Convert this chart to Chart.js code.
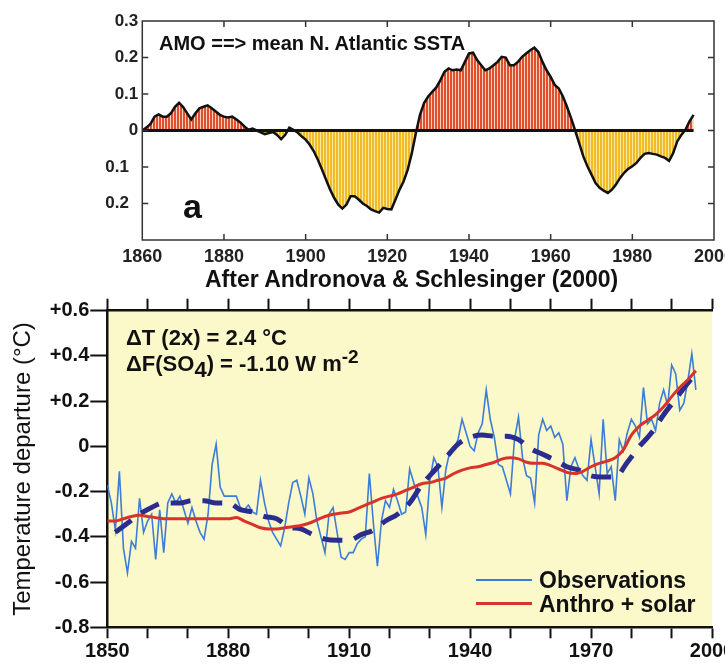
<!DOCTYPE html>
<html>
<head>
    <title>AMO and temperature departure</title>
    <script src="https://cdn.jsdelivr.net/npm/chart.js"></script>
    <style>
        body { margin: 0; width: 725px; height: 668px; overflow: hidden; background: #fff;
               font-family: "Liberation Sans", Arial, sans-serif; }
        canvas { position: absolute; left: 0; }
        .txt { position: absolute; white-space: nowrap; color: #111; font-weight: bold; }
        .key { position: absolute; height: 0; }
    </style>
</head>
<body>
    <canvas id="amo" width="760" height="300" style="top:0"></canvas>
    <canvas id="temp" width="760" height="400" style="top:268px"></canvas>

    <div class="txt" style="left:159px; top:33px; font-size:20px; line-height:20px;">AMO ==&gt; mean N. Atlantic SSTA</div>
    <div class="txt" style="left:183px; top:189px; font-size:34px; line-height:34px;">a</div>
    <div class="txt" style="left:205px; top:268px; font-size:23px; line-height:23px;">After Andronova &amp; Schlesinger (2000)</div>

    <div class="txt" style="left:126px; top:327px; font-size:22px; line-height:22px;">&Delta;T (2x) = 2.4 &deg;C</div>
    <div class="txt" style="left:126px; top:353px; font-size:22px; line-height:22px;">&Delta;F(SO<span style="position:relative; top:6px;">4</span>) = -1.10 W m<span style="position:relative; top:-8px; font-size:19px;">-2</span></div>

    <div class="key" style="left:476px; top:579px; width:56px; border-top:2px solid #3b7dd8;"></div>
    <div class="txt" style="left:539px; top:569px; font-size:23px; line-height:23px;">Observations</div>
    <div class="key" style="left:476px; top:602px; width:56px; border-top:3px solid #d8322a;"></div>
    <div class="txt" style="left:539px; top:593px; font-size:23px; line-height:23px;">Anthro + solar</div>

    <script>
        // AMO index, yearly, 1860-1995
        const amoValues = [
            0.000, 0.008, 0.018, 0.038, 0.044, 0.038, 0.038, 0.047, 0.065, 0.076,
            0.064, 0.047, 0.030, 0.047, 0.061, 0.065, 0.069, 0.061, 0.052, 0.043,
            0.038, 0.036, 0.038, 0.031, 0.022, 0.011, 0.002, 0.005, 0.000, -0.005,
            -0.010, -0.007, -0.004, -0.012, -0.024, -0.012, 0.008, 0.002, -0.005, -0.016,
            -0.025, -0.039, -0.057, -0.080, -0.107, -0.135, -0.162, -0.185, -0.203, -0.214,
            -0.203, -0.180, -0.180, -0.189, -0.200, -0.207, -0.216, -0.221, -0.225, -0.212,
            -0.215, -0.216, -0.189, -0.162, -0.139, -0.107, -0.062, -0.007, 0.043, 0.075,
            0.093, 0.106, 0.118, 0.138, 0.161, 0.170, 0.165, 0.167, 0.165, 0.188,
            0.211, 0.213, 0.193, 0.179, 0.165, 0.170, 0.179, 0.188, 0.202, 0.200,
            0.179, 0.179, 0.188, 0.202, 0.211, 0.220, 0.227, 0.215, 0.188, 0.165,
            0.147, 0.125, 0.115, 0.093, 0.065, 0.034, 0.000, -0.035, -0.071, -0.098,
            -0.121, -0.144, -0.157, -0.165, -0.171, -0.162, -0.148, -0.130, -0.116, -0.105,
            -0.098, -0.089, -0.075, -0.064, -0.062, -0.064, -0.066, -0.071, -0.075, -0.083,
            -0.062, -0.030, -0.012, 0.002, 0.025, 0.043
        ];
        const amoYears = Array.from({length: amoValues.length}, (_, i) => 1860 + i);
        const amoTicks = [-0.3, -0.2, -0.1, 0, 0.1, 0.2, 0.3];

        // observed temperature departure, yearly, 1850-1996
        const obsValues = [
            -0.17, -0.25, -0.37, -0.11, -0.45, -0.56, -0.42, -0.45, -0.23, -0.38,
            -0.33, -0.30, -0.50, -0.28, -0.47, -0.25, -0.21, -0.25, -0.22, -0.28,
            -0.34, -0.27, -0.33, -0.38, -0.41, -0.30, -0.08, 0.01, -0.18, -0.22,
            -0.22, -0.22, -0.22, -0.27, -0.28, -0.26, -0.29, -0.30, -0.15, -0.25,
            -0.33, -0.38, -0.41, -0.44, -0.36, -0.25, -0.16, -0.15, -0.22, -0.30,
            -0.14, -0.21, -0.33, -0.40, -0.47, -0.30, -0.27, -0.38, -0.49, -0.50,
            -0.47, -0.47, -0.43, -0.41, -0.40, -0.12, -0.34, -0.53, -0.33, -0.24,
            -0.27, -0.19, -0.24, -0.30, -0.29, -0.10, -0.16, -0.22, -0.27, -0.39,
            -0.15, -0.05, -0.09, -0.27, -0.10, -0.02, -0.01, 0.03, 0.12, 0.06,
            0.00, -0.02, 0.06, 0.10, 0.25, 0.12, 0.04, -0.08, -0.09, -0.15,
            -0.21, 0.03, 0.13, -0.05, -0.13, -0.14, -0.25, 0.05, 0.12, 0.07,
            0.09, 0.04, 0.06, 0.01, -0.24, -0.09, -0.05, -0.10, -0.13, -0.15,
            0.03, -0.09, -0.21, 0.12, -0.12, -0.09, -0.24, 0.03, -0.02, 0.06,
            0.12, 0.09, 0.04, 0.26, 0.10, 0.12, 0.07, 0.19, 0.25, 0.18,
            0.36, 0.32, 0.16, 0.19, 0.29, 0.41, 0.25
        ];
        const obsYears = Array.from({length: obsValues.length}, (_, i) => 1850 + i);

        // model (anthropogenic + solar), every 2 years, 1850-1996
        const modelValues = [
            -0.33, -0.33, -0.32, -0.31, -0.305, -0.31, -0.315, -0.32, -0.32, -0.32,
            -0.32, -0.32, -0.32, -0.32, -0.32, -0.32, -0.315, -0.33, -0.345, -0.36,
            -0.365, -0.365, -0.36, -0.355, -0.35, -0.34, -0.325, -0.31, -0.30, -0.295,
            -0.29, -0.275, -0.26, -0.245, -0.23, -0.22, -0.21, -0.195, -0.18, -0.165,
            -0.16, -0.15, -0.14, -0.12, -0.105, -0.095, -0.09, -0.08, -0.07, -0.055,
            -0.05, -0.055, -0.07, -0.075, -0.075, -0.085, -0.10, -0.115, -0.12, -0.11,
            -0.09, -0.075, -0.065, -0.05, -0.015, 0.05, 0.09, 0.115, 0.14, 0.175,
            0.22, 0.26, 0.295, 0.335
        ];
        const modelYears = Array.from({length: modelValues.length}, (_, i) => 1850 + 2 * i);

        // thick dashed curve
        const dashYears = [
            1852, 1855, 1858, 1861, 1864, 1868, 1871, 1874, 1877, 1880,
            1883, 1886, 1889, 1892, 1895, 1898, 1901, 1904, 1907, 1910,
            1913, 1916, 1919, 1922, 1925, 1928, 1931, 1934, 1937, 1940,
            1943, 1946, 1949, 1952, 1955, 1958, 1961, 1964, 1967, 1970,
            1973, 1976, 1979, 1982, 1985, 1988, 1991, 1994, 1996
        ];
        const dashValues = [
            -0.38, -0.34, -0.30, -0.27, -0.25, -0.25, -0.24, -0.24, -0.25, -0.25,
            -0.28, -0.29, -0.31, -0.32, -0.355, -0.365, -0.39, -0.41, -0.415, -0.415,
            -0.39, -0.37, -0.33, -0.30, -0.25, -0.17, -0.11, -0.05, 0.01, 0.04,
            0.05, 0.045, 0.045, 0.03, -0.01, -0.035, -0.06, -0.09, -0.105, -0.13,
            -0.135, -0.135, -0.07, 0.00, 0.06, 0.14, 0.21, 0.28, 0.32
        ];

        const xy = (xs, ys) => xs.map((x, i) => ({x: x, y: ys[i]}));
        const FONT = '"Liberation Sans", Arial, sans-serif';

        function stripes(col, light) {
            const c = document.createElement('canvas');
            c.width = 3; c.height = 4;
            const g = c.getContext('2d');
            g.fillStyle = col; g.fillRect(0, 0, 2, 4);
            g.fillStyle = light; g.fillRect(2, 0, 1, 4);
            return g.createPattern(c, 'repeat');
        }

        // box with inward ticks for the AMO panel
        const boxTicks = {
            id: 'boxTicks',
            afterDatasetsDraw(chart) {
                const {ctx, chartArea: a, scales: {x, y}} = chart;
                ctx.save();
                ctx.strokeStyle = '#333';
                ctx.lineWidth = 1.5;
                ctx.strokeRect(a.left, a.top, a.right - a.left, a.bottom - a.top);
                ctx.beginPath();
                x.ticks.forEach(t => {
                    const px = x.getPixelForValue(t.value);
                    if (px <= a.left + 1 || px >= a.right - 1) return;
                    ctx.moveTo(px, a.top); ctx.lineTo(px, a.top + 6);
                    ctx.moveTo(px, a.bottom); ctx.lineTo(px, a.bottom - 6);
                });
                y.ticks.forEach(t => {
                    const py = y.getPixelForValue(t.value);
                    if (py <= a.top + 1 || py >= a.bottom - 1) return;
                    ctx.moveTo(a.left, py); ctx.lineTo(a.left + 6, py);
                    ctx.moveTo(a.right, py); ctx.lineTo(a.right - 6, py);
                });
                ctx.stroke();
                ctx.restore();
            }
        };

        const noGrid = {display: false, drawTicks: false, tickLength: 0};

        new Chart(document.getElementById('amo'), {
            type: 'line',
            data: {
                datasets: [{
                    data: xy(amoYears, amoValues),
                    borderColor: '#111',
                    borderWidth: 2.5,
                    pointRadius: 0,
                    fill: {
                        target: {value: 0},
                        above: stripes('#e0502e', '#f7d2bf'),
                        below: stripes('#f0bb26', '#fae8a2')
                    },
                    order: 1
                }, {
                    data: [{x: amoYears[0], y: 0}, {x: amoYears[amoYears.length - 1], y: 0}],
                    borderColor: '#111',
                    borderWidth: 3,
                    pointRadius: 0,
                    order: 0
                }]
            },
            options: {
                responsive: false,
                animation: false,
                layout: {padding: {top: 21, right: 46, left: 0, bottom: 0}},
                plugins: {legend: {display: false}, tooltip: {enabled: false}},
                scales: {
                    x: {
                        type: 'linear', min: 1860, max: 2000,
                        afterFit: s => { s.height = 60; },
                        grid: noGrid,
                        border: {display: false},
                        ticks: {stepSize: 20, padding: 6, color: '#222', maxRotation: 0,
                                font: {family: FONT, size: 18, weight: 'bold'},
                                callback: v => String(v)}
                    },
                    y: {
                        min: -0.3, max: 0.3,
                        afterFit: s => { s.width = 142.3; },
                        afterBuildTicks: s => { s.ticks = amoTicks.map(v => ({value: v})); },
                        grid: noGrid,
                        border: {display: false},
                        ticks: {
                            padding: 4, color: '#222',
                            font: {family: FONT, size: 17, weight: 'bold'},
                            callback: v => {
                                const r = Math.round(v * 10) / 10;
                                if (r === -0.3) return '';
                                if (r === 0) return '0';
                                return r > 0 ? r.toFixed(1) : Math.abs(r).toFixed(1) + '  ';
                            }
                        }
                    }
                }
            },
            plugins: [boxTicks]
        });

        const plotBg = {
            id: 'plotBg',
            beforeDraw(chart) {
                const {ctx, chartArea: a} = chart;
                ctx.save();
                ctx.fillStyle = '#fbf8c9';
                ctx.fillRect(a.left, a.top, a.right - a.left, a.bottom - a.top);
                ctx.restore();
            }
        };

        const tickGrid = len => ({drawOnChartArea: false, tickLength: len, tickWidth: 2, tickColor: '#111'});
        const axisBorder = {color: '#111', width: 2.5};

        new Chart(document.getElementById('temp'), {
            type: 'line',
            data: {
                datasets: [{
                    label: 'Observations',
                    data: xy(obsYears, obsValues),
                    borderColor: '#3b7dd8',
                    borderWidth: 1.6,
                    pointRadius: 0,
                    order: 3
                }, {
                    label: 'Dashed',
                    data: xy(dashYears, dashValues),
                    borderColor: '#2b2d8e',
                    borderWidth: 5,
                    borderDash: [20, 12],
                    pointRadius: 0,
                    cubicInterpolationMode: 'monotone',
                    order: 2
                }, {
                    label: 'Anthro + solar',
                    data: xy(modelYears, modelValues),
                    borderColor: '#d8322a',
                    borderWidth: 3,
                    pointRadius: 0,
                    cubicInterpolationMode: 'monotone',
                    order: 1
                }]
            },
            options: {
                responsive: false,
                animation: false,
                layout: {padding: {top: 0, right: 48, left: 0, bottom: 0}},
                plugins: {legend: {display: false}, tooltip: {enabled: false}},
                scales: {
                    x: {
                        type: 'linear', position: 'bottom', min: 1850, max: 2000,
                        afterFit: s => { s.height = 40.7; },
                        grid: tickGrid(11),
                        border: axisBorder,
                        ticks: {
                            stepSize: 10, padding: 1, color: '#111', maxRotation: 0, autoSkip: false,
                            font: {family: FONT, size: 20, weight: 'bold'},
                            callback: v => ((v - 1850) % 30 === 0 ? String(v) : '')
                        }
                    },
                    x2: {
                        type: 'linear', position: 'top', min: 1850, max: 2000,
                        afterFit: s => { s.height = 42.7; },
                        grid: tickGrid(12),
                        border: axisBorder,
                        ticks: {stepSize: 10, autoSkip: false, maxRotation: 0, callback: () => ''}
                    },
                    y: {
                        min: -0.8, max: 0.6,
                        afterFit: s => { s.width = 107.3; },
                        grid: tickGrid(17),
                        border: axisBorder,
                        title: {
                            display: true,
                            text: 'Temperature departure (°C)',
                            color: '#111',
                            font: {family: FONT, size: 24, weight: 'normal'},
                            padding: {top: 9, bottom: 0}
                        },
                        ticks: {
                            stepSize: 0.2, padding: 1, color: '#111',
                            font: {family: FONT, size: 20, weight: 'bold'},
                            callback: v => {
                                const r = Math.round(v * 10) / 10;
                                if (r === 0) return '0';
                                return r > 0 ? '+' + r.toFixed(1) : r.toFixed(1);
                            }
                        }
                    }
                }
            },
            plugins: [plotBg]
        });
    </script>
</body>
</html>
